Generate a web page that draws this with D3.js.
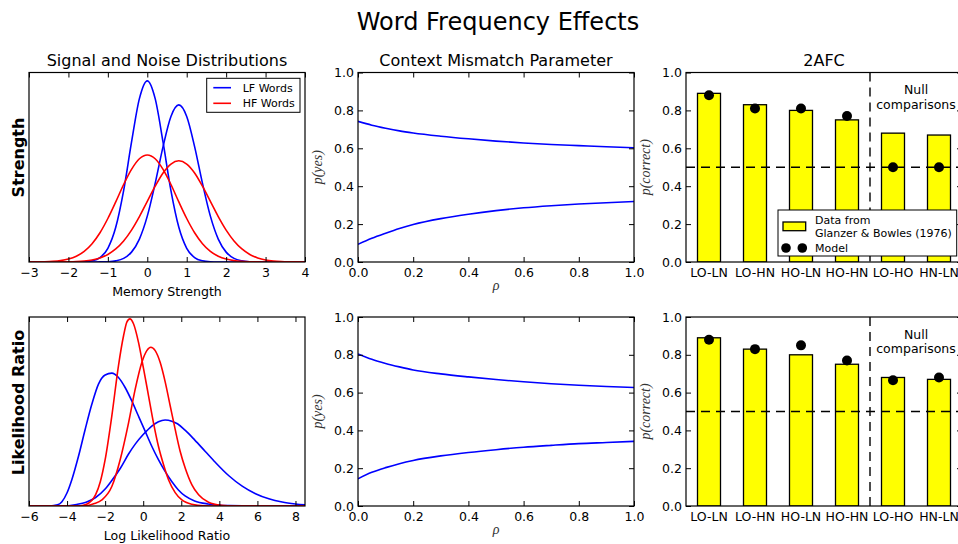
<!DOCTYPE html>
<html>
<head>
<meta charset="utf-8">
<script src="https://cdn.jsdelivr.net/npm/d3@7"></script>
<style>
  body { margin: 0; background: #fff; }
  svg { display: block; font-family: "DejaVu Sans", sans-serif; }
  .tick text { font-size: 12.5px; fill: #000; font-family: "DejaVu Sans", sans-serif; }
  .tick line { stroke: #000; stroke-width: 1; }
</style>
</head>
<body>
<svg id="fig" width="958" height="544"></svg>
<script>
// ---- Strength model: memory strength densities (LF = low frequency, HF = high frequency)
const strengthGrid = [-3.0,-2.8,-2.6,-2.4,-2.2,-2.0,-1.8,-1.6,-1.4,-1.2,-1.0,-0.8,-0.6,-0.4,-0.2,0,0.2,0.4,0.6,0.8,1.0,1.2,1.4,1.6,1.8,2.0,2.2,2.4,2.6,2.8,3.0,3.2,3.4,3.6,3.8,4.0];
const lfNoiseStrength  = [0,0,0,0,0,0,0.0002,0.0013,0.0061,0.0232,0.0723,0.183,0.377,0.632,0.862,0.956,0.862,0.632,0.377,0.183,0.0723,0.0232,0.0061,0.0013,0.0002,0,0,0,0,0,0,0,0,0,0,0];
const lfTargetStrength = [0,0,0,0,0,0,0,0,0.0001,0.0004,0.0016,0.0060,0.0191,0.0521,0.121,0.242,0.415,0.609,0.768,0.829,0.768,0.609,0.415,0.242,0.121,0.0521,0.0191,0.0060,0.0016,0.0004,0.0001,0,0,0,0,0];
const hfNoiseStrength  = [0.0002,0.0005,0.0013,0.0032,0.0072,0.0154,0.0305,0.0563,0.0967,0.1544,0.2295,0.317,0.409,0.489,0.545,0.565,0.545,0.489,0.409,0.317,0.2295,0.1544,0.0967,0.0563,0.0305,0.0154,0.0072,0.0032,0.0013,0.0005,0.0002,0.0001,0,0,0,0];
const hfTargetStrength = [0,0,0,0.0001,0.0004,0.0010,0.0024,0.0053,0.0110,0.0217,0.0398,0.0687,0.1111,0.1684,0.2397,0.320,0.400,0.470,0.517,0.534,0.517,0.470,0.400,0.320,0.2397,0.1684,0.1111,0.0687,0.0398,0.0217,0.0110,0.0053,0.0024,0.0010,0.0004,0.0001];
const strengthTicks = [-3,-2,-1,0,1,2,3,4];

// ---- Likelihood-ratio model: log likelihood ratio densities, [llr, density]
const lfNoiseLLR  = [[-6,0],[-4.9,0],[-4.5,0.006],[-4.27,0.023],[-4.0,0.07],[-3.75,0.139],[-3.4,0.263],[-3.05,0.405],[-2.7,0.538],[-2.35,0.645],[-2.0,0.693],[-1.65,0.703],[-1.3,0.68],[-0.95,0.627],[-0.6,0.556],[-0.25,0.476],[0.1,0.396],[0.45,0.316],[0.8,0.245],[1.15,0.183],[1.5,0.13],[1.85,0.085],[2.2,0.053],[2.7,0.027],[3.4,0.011],[4.5,0.002],[6,0],[8.5,0]];
const lfTargetLLR = [[-6,0],[-4.3,0],[-3.5,0.008],[-3.0,0.02],[-2.5,0.045],[-2.0,0.09],[-1.65,0.135],[-1.2,0.2],[-0.77,0.275],[-0.4,0.33],[0,0.378],[0.45,0.423],[0.8,0.446],[1.15,0.455],[1.5,0.449],[1.8,0.435],[2.2,0.401],[2.7,0.35],[3.25,0.29],[3.8,0.23],[4.5,0.16],[5.2,0.105],[5.9,0.065],[6.6,0.038],[7.3,0.021],[8.0,0.011],[8.5,0.006]];
const hfNoiseLLR  = [[-6,0],[-3.4,0],[-3.0,0.008],[-2.5,0.06],[-2.25,0.13],[-2.0,0.245],[-1.65,0.476],[-1.3,0.742],[-1.03,0.902],[-0.86,0.973],[-0.7,0.99],[-0.51,0.964],[-0.25,0.867],[0.02,0.725],[0.28,0.583],[0.54,0.44],[0.8,0.316],[1.07,0.218],[1.33,0.139],[1.68,0.071],[2.03,0.032],[2.55,0.009],[3.2,0.001],[4,0],[8.5,0]];
const hfTargetLLR = [[-6,0],[-3.1,0],[-2.6,0.012],[-2.17,0.032],[-1.65,0.103],[-1.21,0.245],[-0.77,0.44],[-0.42,0.618],[-0.07,0.76],[0.19,0.822],[0.4,0.84],[0.63,0.822],[0.89,0.76],[1.16,0.654],[1.42,0.529],[1.68,0.405],[1.94,0.29],[2.21,0.2],[2.56,0.112],[2.91,0.059],[3.43,0.02],[4.1,0.004],[4.8,0],[8.5,0]];
const llrTicks = [-6,-4,-2,0,2,4,6,8];

// ---- Context mismatch: p(yes) as a function of rho
const rhoGrid = [0,0.05,0.1,0.15,0.2,0.3,0.4,0.5,0.6,0.7,0.8,0.9,1.0];
const hitsStrength = [0.742,0.722,0.706,0.692,0.681,0.664,0.650,0.638,0.628,0.620,0.614,0.608,0.603];
const faStrength   = [0.093,0.125,0.152,0.177,0.198,0.229,0.252,0.271,0.286,0.297,0.306,0.313,0.319];
const hitsLLR      = [0.805,0.776,0.754,0.736,0.720,0.699,0.683,0.669,0.657,0.647,0.639,0.632,0.627];
const faLLR        = [0.144,0.178,0.203,0.224,0.241,0.265,0.283,0.298,0.311,0.321,0.330,0.336,0.342];
const rhoTicks = [0,0.2,0.4,0.6,0.8,1.0];
const probTicks = [0,0.2,0.4,0.6,0.8,1.0];

// ---- 2AFC comparisons
const pairLabels = ["LO-LN","LO-HN","HO-LN","HO-HN","LO-HO","HN-LN"];
const glanzerBowles = [0.89,0.83,0.80,0.75,0.68,0.67];
const modelStrength = [0.88,0.81,0.81,0.77,0.50,0.50];
const modelLLR      = [0.88,0.83,0.85,0.77,0.665,0.68];
const chanceLevel = 0.5;

const svg = d3.select("#fig");
svg.append("rect").attr("width", 958).attr("height", 544).attr("fill", "#fff");

const rows = [{ top: 72.5, bottom: 262 }, { top: 317, bottom: 506 }];
const cols = [{ left: 29, right: 305 }, { left: 358, right: 634 }, { left: 686, right: 962 }];
const BLUE = "#0000ff", RED = "#ff0000";
let clipId = 0;

function makeAxes(c, r) {
  const g = svg.append("g");
  const id = "clip" + (clipId++);
  g.append("clipPath").attr("id", id).append("rect")
    .attr("x", c.left).attr("y", r.top)
    .attr("width", c.right - c.left).attr("height", r.bottom - r.top);
  const plot = g.append("g").attr("clip-path", `url(#${id})`);
  return { g, plot };
}

function frame(g, c, r) {
  g.append("rect").attr("x", c.left).attr("y", r.top)
    .attr("width", c.right - c.left).attr("height", r.bottom - r.top)
    .attr("fill", "none").attr("stroke", "#000").attr("stroke-width", 1.2);
}

function xAxes(g, x, ticks, fmt, r) {
  const b = g.append("g").attr("transform", `translate(0,${r.bottom})`)
    .call(d3.axisBottom(x).tickValues(ticks).tickFormat(fmt).tickSizeInner(-5).tickSizeOuter(0).tickPadding(6.6));
  b.select(".domain").remove();
  const t = g.append("g").attr("transform", `translate(0,${r.top})`)
    .call(d3.axisTop(x).tickValues(ticks).tickFormat("").tickSizeInner(-5).tickSizeOuter(0));
  t.select(".domain").remove();
}

function yAxes(g, y, ticks, c) {
  const l = g.append("g").attr("transform", `translate(${c.left},0)`)
    .call(d3.axisLeft(y).tickValues(ticks).tickFormat(d3.format(".1f")).tickSizeInner(-5).tickSizeOuter(0).tickPadding(4));
  l.select(".domain").remove();
  const rr = g.append("g").attr("transform", `translate(${c.right},0)`)
    .call(d3.axisRight(y).tickValues(ticks).tickFormat("").tickSizeInner(-5).tickSizeOuter(0));
  rr.select(".domain").remove();
}

function mathLabel(text, x, y, rotate) {
  const t = svg.append("text")
    .attr("font-family", "'Liberation Serif', 'DejaVu Serif', serif")
    .attr("font-style", "italic").attr("font-size", 14).attr("fill", "#333")
    .attr("text-anchor", "middle").text(text);
  if (rotate) t.attr("transform", `translate(${x},${y}) rotate(-90)`);
  else t.attr("x", x).attr("y", y);
  return t;
}

// ---------- Left column: distributions ----------
function distributionPanel(r, xDomain, xTicks, curves, xLabel, rowLabel, rowLabelY) {
  const c = cols[0];
  const { g, plot } = makeAxes(c, r);
  const x = d3.scaleLinear().domain(xDomain).range([c.left, c.right]);
  const y = d3.scaleLinear().domain([0, 1]).range([r.bottom, r.top]);
  const line = d3.line().x(d => x(d[0])).y(d => y(d[1])).curve(d3.curveMonotoneX);
  curves.forEach(cv => {
    plot.append("path").datum(cv.pts).attr("d", line)
      .attr("fill", "none").attr("stroke", cv.color).attr("stroke-width", 1.6);
  });
  frame(g, c, r);
  xAxes(g, x, xTicks, d3.format("d"), r);
  svg.append("text").attr("x", (c.left + c.right) / 2).attr("y", r.bottom + 34)
    .attr("text-anchor", "middle").attr("font-size", 12.6).text(xLabel);
  svg.append("text").attr("transform", `translate(23.5,${rowLabelY}) rotate(-90)`)
    .attr("text-anchor", "middle").attr("font-size", 16).attr("font-weight", "bold").text(rowLabel);
  return g;
}

const zipGrid = vals => strengthGrid.map((s, i) => [s, vals[i]]);

const gStrength = distributionPanel(rows[0], [-3, 4], strengthTicks, [
  { pts: zipGrid(lfNoiseStrength), color: BLUE },
  { pts: zipGrid(lfTargetStrength), color: BLUE },
  { pts: zipGrid(hfNoiseStrength), color: RED },
  { pts: zipGrid(hfTargetStrength), color: RED }
], "Memory Strength", "Strength", 157.5);

distributionPanel(rows[1], [-6, 8.5], llrTicks, [
  { pts: lfNoiseLLR, color: BLUE },
  { pts: lfTargetLLR, color: BLUE },
  { pts: hfNoiseLLR, color: RED },
  { pts: hfTargetLLR, color: RED }
], "Log Likelihood Ratio", "Likelihood Ratio", 402.5);

// legend for word frequency classes
(function () {
  const lg = gStrength.append("g");
  lg.append("rect").attr("x", 206.7).attr("y", 78.3).attr("width", 93.3).attr("height", 34)
    .attr("fill", "#fff").attr("stroke", "#000").attr("stroke-width", 1);
  [{ label: "LF Words", color: BLUE, y: 87.7 }, { label: "HF Words", color: RED, y: 103.3 }].forEach(e => {
    lg.append("line").attr("x1", 213.3).attr("x2", 231).attr("y1", e.y).attr("y2", e.y)
      .attr("stroke", e.color).attr("stroke-width", 1.6);
    lg.append("text").attr("x", 242.7).attr("y", e.y + 4).attr("font-size", 11).text(e.label);
  });
})();

// ---------- Middle column: context mismatch ----------
function mismatchPanel(r, hits, fas) {
  const c = cols[1];
  const { g, plot } = makeAxes(c, r);
  const x = d3.scaleLinear().domain([0, 1]).range([c.left, c.right]);
  const y = d3.scaleLinear().domain([0, 1]).range([r.bottom, r.top]);
  const line = d3.line().x(d => x(d[0])).y(d => y(d[1])).curve(d3.curveMonotoneX);
  [hits, fas].forEach(vals => {
    plot.append("path").datum(rhoGrid.map((p, i) => [p, vals[i]])).attr("d", line)
      .attr("fill", "none").attr("stroke", BLUE).attr("stroke-width", 1.6);
  });
  frame(g, c, r);
  xAxes(g, x, rhoTicks, d3.format(".1f"), r);
  yAxes(g, y, probTicks, c);
  mathLabel("p(yes)", 322, (r.top + r.bottom) / 2, true);
  mathLabel("ρ", (c.left + c.right) / 2, r.bottom + 28, false);
}
mismatchPanel(rows[0], hitsStrength, faStrength);
mismatchPanel(rows[1], hitsLLR, faLLR);

// ---------- Right column: 2AFC ----------
function afcPanel(r, model, withLegend) {
  const c = cols[2];
  const { g, plot } = makeAxes(c, r);
  const x = d3.scaleBand().domain(pairLabels).range([c.left, c.right]).paddingInner(0.5).paddingOuter(0.25);
  const y = d3.scaleLinear().domain([0, 1]).range([r.bottom, r.top]);
  plot.selectAll("rect.bar").data(pairLabels).join("rect").attr("class", "bar")
    .attr("x", d => x(d)).attr("width", x.bandwidth())
    .attr("y", (d, i) => y(glanzerBowles[i])).attr("height", (d, i) => y(0) - y(glanzerBowles[i]))
    .attr("fill", "#ffff00").attr("stroke", "#000").attr("stroke-width", 1.3);
  plot.append("line").attr("x1", c.left).attr("x2", c.right)
    .attr("y1", y(chanceLevel)).attr("y2", y(chanceLevel))
    .attr("stroke", "#000").attr("stroke-width", 1.4).attr("stroke-dasharray", "9,6");
  const split = x(pairLabels[3]) + x.bandwidth() + (x.step() - x.bandwidth()) / 2;
  plot.append("line").attr("x1", split).attr("x2", split).attr("y1", r.top).attr("y2", r.bottom)
    .attr("stroke", "#000").attr("stroke-width", 1.4).attr("stroke-dasharray", "9,6");
  plot.selectAll("circle.model").data(pairLabels).join("circle").attr("class", "model")
    .attr("cx", d => x(d) + x.bandwidth() / 2).attr("cy", (d, i) => y(model[i]))
    .attr("r", 5).attr("fill", "#000");
  frame(g, c, r);
  const b = g.append("g").attr("transform", `translate(0,${r.bottom})`)
    .call(d3.axisBottom(x).tickSize(0).tickPadding(6.6));
  b.select(".domain").remove();
  yAxes(g, y, probTicks, c);
  mathLabel("p(correct)", 650, (r.top + r.bottom) / 2, true);
  const nullX = (x(pairLabels[4]) + x(pairLabels[5]) + x.bandwidth()) / 2;
  const nt = svg.append("text").attr("text-anchor", "middle").attr("font-size", 12.5);
  nt.append("tspan").attr("x", nullX).attr("y", r.top + 21.5).text("Null");
  nt.append("tspan").attr("x", nullX).attr("y", r.top + 36).text("comparisons");
  if (withLegend) {
    const lg = svg.append("g");
    lg.append("rect").attr("x", 778).attr("y", 210).attr("width", 178.7).attr("height", 46)
      .attr("fill", "#fff").attr("stroke", "#000").attr("stroke-width", 1);
    lg.append("rect").attr("x", 783).attr("y", 222).attr("width", 22.7).attr("height", 8.7)
      .attr("fill", "#ffff00").attr("stroke", "#000").attr("stroke-width", 1.3);
    const lt = lg.append("text").attr("font-size", 11);
    lt.append("tspan").attr("x", 815).attr("y", 224).text("Data from");
    lt.append("tspan").attr("x", 815).attr("y", 237).text("Glanzer & Bowles (1976)");
    [786, 802.3].forEach(cx => lg.append("circle").attr("cx", cx).attr("cy", 248).attr("r", 4.8).attr("fill", "#000"));
    lg.append("text").attr("x", 815).attr("y", 252).attr("font-size", 11).text("Model");
  }
  if (withLegend) {
    svg.append("text").attr("x", (c.left + c.right) / 2).attr("y", 65.5)
      .attr("text-anchor", "middle").attr("font-size", 16).text("2AFC");
  }
}
afcPanel(rows[0], modelStrength, true);
afcPanel(rows[1], modelLLR, false);

// ---------- Titles ----------
svg.append("text").attr("x", 167).attr("y", 65.5).attr("text-anchor", "middle")
  .attr("font-size", 16).text("Signal and Noise Distributions");
svg.append("text").attr("x", 496).attr("y", 65.5).attr("text-anchor", "middle")
  .attr("font-size", 16).text("Context Mismatch Parameter");
svg.append("text").attr("x", 498).attr("y", 30).attr("text-anchor", "middle")
  .attr("font-size", 24).text("Word Frequency Effects");
</script>
</body>
</html>
